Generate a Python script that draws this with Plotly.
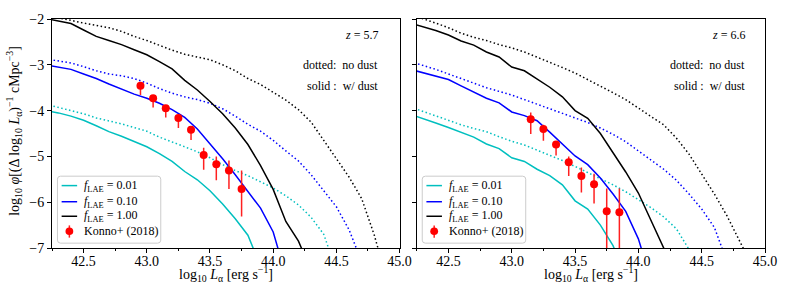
import plotly.graph_objects as go

# shared luminosity grid (log10 L_alpha)
L = [42.2, 42.3, 42.4, 42.5, 42.6, 42.7, 42.8, 42.9, 43.0, 43.1, 43.2, 43.3, 43.4, 43.5,
     43.6, 43.7, 43.8, 43.9, 44.0, 44.1, 44.2, 44.3, 44.4, 44.5, 44.6, 44.7, 44.8, 44.9, 45.0]

# z = 5.7 model curves (log10 phi)
cyan_solid_57 = [-4.00, -4.05, -4.12, -4.21, -4.33, -4.46, -4.56, -4.68, -4.79, -4.94, -5.11, -5.33,
                 -5.51, -5.75, -6.04, -6.36, -6.72, -7.40]
cyan_dot_57 = [-3.86, -3.93, -3.99, -4.07, -4.16, -4.22, -4.29, -4.37, -4.45, -4.58, -4.68, -4.79,
               -4.90, -5.03, -5.18, -5.31, -5.42, -5.55, -5.69, -5.86, -6.06, -6.33, -6.70, -7.50]
blue_solid_57 = [-3.00, -3.05, -3.10, -3.20, -3.30, -3.42, -3.53, -3.64, -3.73, -3.84, -3.98, -4.15,
                 -4.40, -4.72, -5.05, -5.40, -5.76, -6.13, -6.65, -7.60]
blue_dot_57 = [-2.87, -2.91, -2.96, -3.04, -3.13, -3.20, -3.24, -3.30, -3.40, -3.52, -3.62, -3.70,
               -3.76, -3.84, -3.96, -4.12, -4.30, -4.45, -4.65, -4.88, -5.10, -5.40, -5.75, -6.10,
               -6.60, -7.30]
black_solid_57 = [-1.99, -2.05, -2.10, -2.24, -2.38, -2.47, -2.56, -2.67, -2.78, -2.93, -3.09, -3.34,
                  -3.55, -3.80, -4.07, -4.38, -4.74, -5.20, -5.72, -6.42, -6.85, -7.50]
black_dot_57 = [-1.92, -1.97, -2.03, -2.09, -2.14, -2.19, -2.27, -2.38, -2.47, -2.58, -2.68, -2.77,
                -2.83, -2.89, -3.00, -3.13, -3.30, -3.43, -3.60, -3.77, -3.98, -4.25, -4.65, -5.05,
                -5.45, -5.92, -6.72, -7.70]

# z = 6.6 model curves
cyan_solid_66 = [-4.08, -4.17, -4.27, -4.37, -4.48, -4.58, -4.73, -4.83, -5.03, -5.11, -5.28, -5.42,
                 -5.62, -5.97, -6.15, -6.50, -6.95, -7.60]
cyan_dot_66 = [-3.92, -4.02, -4.12, -4.22, -4.31, -4.39, -4.46, -4.57, -4.67, -4.75, -4.86, -4.97,
               -5.09, -5.22, -5.35, -5.48, -5.62, -5.77, -5.94, -6.12, -6.32, -6.58, -7.03, -7.60]
blue_solid_66 = [-3.10, -3.17, -3.24, -3.32, -3.46, -3.59, -3.73, -3.83, -4.03, -4.11, -4.22, -4.47,
                 -4.73, -4.99, -5.18, -5.47, -5.82, -6.20, -6.80, -7.70]
blue_dot_66 = [-2.93, -3.01, -3.10, -3.20, -3.30, -3.41, -3.50, -3.58, -3.66, -3.76, -3.86, -3.96,
               -4.06, -4.17, -4.26, -4.38, -4.52, -4.68, -4.88, -5.08, -5.28, -5.52, -5.82, -6.15,
               -6.55, -7.30]
black_solid_66 = [-2.09, -2.17, -2.25, -2.35, -2.48, -2.57, -2.72, -2.83, -3.05, -3.13, -3.31, -3.49,
                  -3.70, -4.00, -4.17, -4.50, -4.92, -5.34, -5.80, -6.40, -7.00, -7.60]
black_dot_66 = [-1.90, -1.99, -2.09, -2.19, -2.31, -2.40, -2.47, -2.56, -2.63, -2.72, -2.83, -2.95,
                -3.06, -3.18, -3.32, -3.46, -3.61, -3.76, -3.95, -4.13, -4.31, -4.60, -4.95, -5.38,
                -5.82, -6.30, -6.83, -7.40]

# Konno+ (2018) observations
konno57_L = [42.95, 43.05, 43.15, 43.25, 43.35, 43.45, 43.55, 43.65, 43.75]
konno57_phi = [-3.46, -3.73, -3.95, -4.16, -4.42, -4.97, -5.17, -5.31, -5.71]
konno57_up = [0.06, 0.06, 0.06, 0.06, 0.06, 0.16, 0.17, 0.22, 0.40]
konno57_lo = [0.20, 0.20, 0.20, 0.22, 0.22, 0.32, 0.35, 0.40, 0.60]

konno66_L = [43.15, 43.25, 43.35, 43.45, 43.55, 43.65, 43.75, 43.85]
konno66_phi = [-4.19, -4.40, -4.74, -5.13, -5.43, -5.61, -6.20, -6.22]
konno66_up = [0.15, 0.09, 0.06, 0.13, 0.19, 0.23, 0.50, 0.52]
konno66_lo = [0.32, 0.26, 0.24, 0.30, 0.36, 0.42, 1.50, 1.50]

labels = ["<i>f</i><sub>LAE</sub> = 0.01", "<i>f</i><sub>LAE</sub> = 0.10", "<i>f</i><sub>LAE</sub> = 1.00"]
obs_label = "Konno+ (2018)"
colors = ["#00bfbf", "#0000ff", "#000000"]
RED = "#ff0000"

FONT = "'Liberation Serif', 'DejaVu Serif', serif"
DOT = "1.5px,2.5px"

fig = go.Figure()

panels = [
    ("x", "y", [cyan_solid_57, blue_solid_57, black_solid_57],
     [cyan_dot_57, blue_dot_57, black_dot_57], konno57_L, konno57_phi, konno57_up, konno57_lo),
    ("x2", "y2", [cyan_solid_66, blue_solid_66, black_solid_66],
     [cyan_dot_66, blue_dot_66, black_dot_66], konno66_L, konno66_phi, konno66_up, konno66_lo),
]

for xa, ya, solids, dots, kL, kphi, kup, klo in panels:
    for arr, col in zip(dots, colors):
        fig.add_trace(go.Scatter(x=L[:len(arr)], y=arr, mode="lines", xaxis=xa, yaxis=ya,
                                 line=dict(color=col, width=1.5, dash=DOT),
                                 showlegend=False, hoverinfo="skip"))
    for arr, col, lab in zip(solids, colors, labels):
        fig.add_trace(go.Scatter(x=L[:len(arr)], y=arr, mode="lines", xaxis=xa, yaxis=ya,
                                 line=dict(color=col, width=1.5), name=lab, showlegend=False))
    fig.add_trace(go.Scatter(x=kL, y=kphi, mode="markers", xaxis=xa, yaxis=ya,
                             marker=dict(color=RED, size=8),
                             error_y=dict(type="data", symmetric=False, array=kup, arrayminus=klo,
                                          color="#ff2020", thickness=1.5, width=0),
                             name=obs_label, showlegend=False))

axis_common = dict(range=[42.25, 45.0], tick0=42.5, dtick=0.5, tickformat=".1f",
                   ticks="outside", ticklen=4, tickwidth=1, tickcolor="#000",
                   showline=True, linecolor="#000", linewidth=1, mirror=True,
                   showgrid=False, zeroline=False, ticklabelstandoff=-4,
                   minor=dict(ticks="outside", ticklen=2, dtick=0.25, tick0=42.25, tickcolor="#000"),
                   tickfont=dict(family=FONT, size=14, color="#000"))
yaxis_common = dict(range=[-7, -2], dtick=1, ticks="outside", ticklen=4, tickwidth=1, tickcolor="#000",
                    showline=True, linecolor="#000", linewidth=1, mirror=True,
                    showgrid=False, zeroline=False,
                    tickfont=dict(family=FONT, size=14, color="#000"))

fig.update_layout(
    width=789, height=294,
    margin=dict(l=52, r=19, t=12, b=46),
    paper_bgcolor="white", plot_bgcolor="white",
    xaxis=dict(domain=[0, 0.4875], anchor="y", **axis_common),
    xaxis2=dict(domain=[0.5116, 1.0], anchor="y2", **axis_common),
    yaxis=dict(domain=[0, 1], anchor="x", **yaxis_common),
    yaxis2=dict(domain=[0, 1], anchor="x2", showticklabels=False, **yaxis_common),
    showlegend=False,
)

title_font = dict(family=FONT, size=14, color="#000")
xtitle = "log<sub>10</sub> <i>L</i><sub>α</sub> [erg s<sup>−1</sup>]"
for xc in [0.2437, 0.7558]:
    fig.add_annotation(x=xc, y=-0.112, xref="paper", yref="paper", text=xtitle, showarrow=False,
                       xanchor="center", yanchor="middle", font=title_font)
fig.add_annotation(x=-0.0543, y=0.513, xref="paper", yref="paper", textangle=-90,
                   text="log<sub>10</sub> <i>φ</i>[(Δ log<sub>10</sub> <i>L</i><sub>α</sub>)<sup>−1</sup> cMpc<sup>−3</sup>]",
                   showarrow=False, xanchor="center", yanchor="middle", font=title_font)

ann_font = dict(family=FONT, size=12, color="#000")
for xr, yr, xpos, ztxt in [("x domain", "y domain", 0.945, "<i>z</i> = 5.7"),
                           ("x2 domain", "y2 domain", 0.949, "<i>z</i> = 6.6")]:
    for ypos, txt in [(0.931, ztxt), (0.801, "dotted:  no dust"), (0.706, "solid :  w/ dust")]:
        fig.add_annotation(x=xpos, y=ypos, xref=xr, yref=yr, text=txt, showarrow=False,
                           xanchor="right", yanchor="middle", font=ann_font)


# ---- legend box drawn in each panel (matplotlib-style compact legend) ----
def rounded_rect(x0, y0, x1, y1, rx, ry):
    return (f"M{x0 + rx},{y0} L{x1 - rx},{y0} Q{x1},{y0} {x1},{y0 + ry} "
            f"L{x1},{y1 - ry} Q{x1},{y1} {x1 - rx},{y1} L{x0 + rx},{y1} "
            f"Q{x0},{y1} {x0},{y1 - ry} L{x0},{y0 + ry} Q{x0},{y0} {x0 + rx},{y0} Z")


entry_y = [0.2725, 0.2021, 0.1386, 0.0733]
for xr, yr in [("x domain", "y domain"), ("x2 domain", "y2 domain")]:
    fig.add_shape(type="path", xref=xr, yref=yr, layer="above",
                  path=rounded_rect(0.0157, 0.0212, 0.3129, 0.3136, 0.009, 0.013),
                  fillcolor="rgba(255,255,255,0.8)", line=dict(color="#cccccc", width=1))
    for ey, col in zip(entry_y[:3], colors):
        fig.add_shape(type="line", xref=xr, yref=yr, layer="above",
                      x0=0.0277, x1=0.0723, y0=ey, y1=ey, line=dict(color=col, width=1.5))
    # observation glyph: marker with vertical error bar
    fig.add_shape(type="line", xref=xr, yref=yr, layer="above",
                  x0=0.05, x1=0.05, y0=0.0453, y1=0.0987, line=dict(color="#ff2020", width=1.5))
    fig.add_shape(type="circle", xref=xr, yref=yr, layer="above",
                  x0=0.05 - 0.0112, x1=0.05 + 0.0112, y0=0.0733 - 0.0166, y1=0.0733 + 0.0166,
                  fillcolor=RED, line=dict(width=0))
    for ey, txt in zip(entry_y, labels + [obs_label]):
        fig.add_annotation(x=0.0877, y=ey, xref=xr, yref=yr, text=txt, showarrow=False,
                           xanchor="left", yanchor="middle", font=ann_font)

# remove the browser's default 8px body margin so the figure sits at the page origin
fig.write_html("out.html", config={"displayModeBar": False},
               post_script="document.body.style.margin='0px';")
